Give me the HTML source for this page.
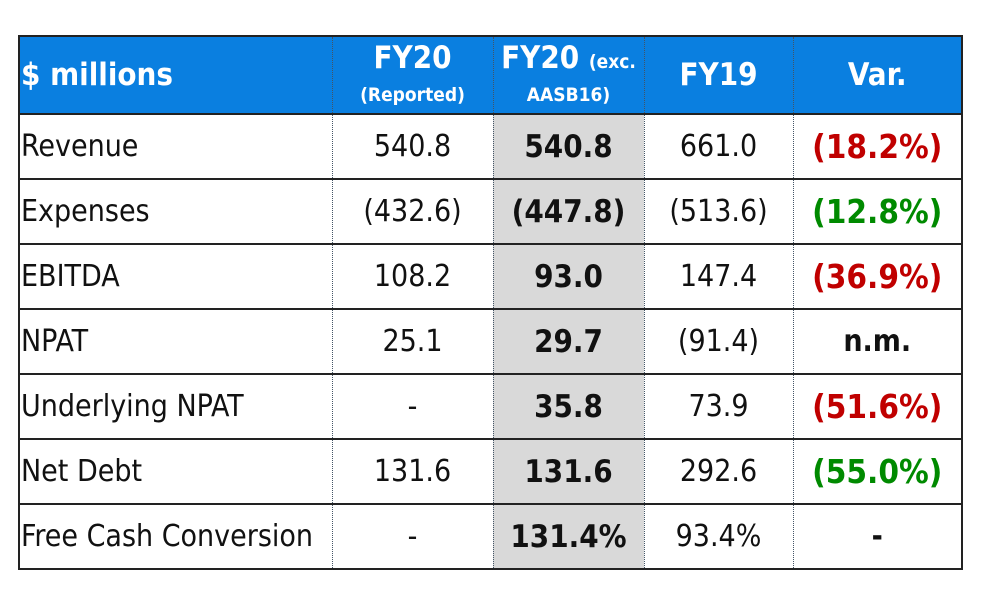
<!DOCTYPE html>
<html><head><meta charset="utf-8"><style>
body{margin:0;width:985px;height:613px;background:#fff;position:relative;font-family:"DejaVu Sans Condensed","Liberation Sans",sans-serif;}
table{position:absolute;left:18px;top:35px;border-collapse:collapse;width:943px;table-layout:fixed;}
td{border-top:2px solid #222;border-bottom:2px solid #222;height:63px;padding:0;text-align:center;font-size:30px;color:#111;white-space:nowrap;}
tr.h td{background:#0a7fe0;color:#fff;font-weight:bold;height:76px;border-top:2px solid #222;font-size:31px;}
td.l{text-align:left;padding-left:1px;}
td.g{background:#d9d9d9;font-weight:bold;font-size:31px;}
tr.h td.g{background:#0a7fe0;}
td+td{border-left:1px dotted #456;}
table{border-left:2px solid #222;border-right:2px solid #222;}
.r{color:#c00000;font-weight:bold;font-size:33px !important}.gr{color:#008a00;font-weight:bold;font-size:33px !important}.b{font-weight:bold}
.s{font-size:19px}
</style></head><body>
<table>
<colgroup><col style="width:313px"><col style="width:161px"><col style="width:151px"><col style="width:149px"><col style="width:169px"></colgroup>
<tr class="h"><td class="l">$ millions</td><td style="line-height:1.05">FY20<br><span class="s">(Reported)</span></td><td class="g" style="line-height:1.05">FY20 <span class="s">(exc.</span><br><span class="s">AASB16)</span></td><td>FY19</td><td>Var.</td></tr>
<tr><td class="l">Revenue</td><td>540.8</td><td class="g">540.8</td><td>661.0</td><td class="r">(18.2%)</td></tr>
<tr><td class="l">Expenses</td><td>(432.6)</td><td class="g">(447.8)</td><td>(513.6)</td><td class="gr">(12.8%)</td></tr>
<tr><td class="l">EBITDA</td><td>108.2</td><td class="g">93.0</td><td>147.4</td><td class="r">(36.9%)</td></tr>
<tr><td class="l">NPAT</td><td>25.1</td><td class="g">29.7</td><td>(91.4)</td><td class="b">n.m.</td></tr>
<tr><td class="l">Underlying NPAT</td><td>-</td><td class="g">35.8</td><td>73.9</td><td class="r">(51.6%)</td></tr>
<tr><td class="l">Net Debt</td><td>131.6</td><td class="g">131.6</td><td>292.6</td><td class="gr">(55.0%)</td></tr>
<tr><td class="l">Free Cash Conversion</td><td>-</td><td class="g">131.4%</td><td>93.4%</td><td class="b">-</td></tr>
</table>
</body></html>
